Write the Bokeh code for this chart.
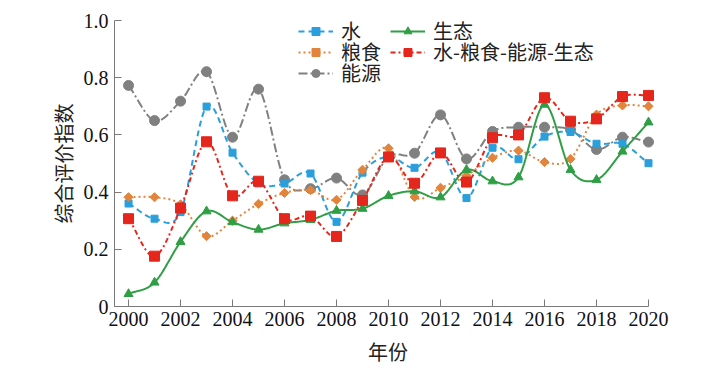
import numpy as np
from bokeh.plotting import figure
from bokeh.models import Range1d, Legend, LegendItem, FixedTicker, CustomJSTickFormatter
from bokeh.embed import file_html
from bokeh.resources import INLINE

years = list(range(2000, 2021))
water = [0.360, 0.307, 0.330, 0.699, 0.538, 0.430, 0.430, 0.465, 0.296, 0.468, 0.524,
         0.485, 0.540, 0.379, 0.555, 0.515, 0.594, 0.610, 0.569, 0.569, 0.501]
food = [0.382, 0.382, 0.357, 0.246, 0.300, 0.359, 0.397, 0.407, 0.373, 0.478, 0.553,
        0.383, 0.415, 0.458, 0.520, 0.545, 0.505, 0.516, 0.671, 0.703, 0.700]
energy = [0.773, 0.650, 0.718, 0.821, 0.592, 0.760, 0.443, 0.412, 0.449, 0.390, 0.524,
          0.536, 0.670, 0.516, 0.612, 0.627, 0.627, 0.618, 0.549, 0.592, 0.575]
eco = [0.044, 0.084, 0.226, 0.333, 0.295, 0.269, 0.291, 0.303, 0.335, 0.342, 0.387,
       0.403, 0.382, 0.478, 0.438, 0.452, 0.706, 0.478, 0.443, 0.542, 0.644]
wfee = [0.307, 0.176, 0.344, 0.576, 0.387, 0.438, 0.307, 0.316, 0.245, 0.371, 0.523,
        0.431, 0.537, 0.435, 0.590, 0.600, 0.730, 0.648, 0.656, 0.734, 0.738]

x_ticks = list(range(2000, 2021, 2))
y_ticks = [0, 0.2, 0.4, 0.6, 0.8, 1.0]
labels = ["水", "粮食", "能源", "生态", "水-粮食-能源-生态"]


def smooth(x, y, n=24):
    x = np.asarray(x, float)
    y = np.asarray(y, float)
    P = np.column_stack([x, y])
    P = np.vstack([2 * P[0] - P[1], P, 2 * P[-1] - P[-2]])
    out = []
    t = np.linspace(0, 1, n)[:, None]
    for i in range(1, len(P) - 2):
        p0, p1, p2, p3 = P[i - 1], P[i], P[i + 1], P[i + 2]
        c1 = p1 + (p2 - p0) / 6.0
        c2 = p2 - (p3 - p1) / 6.0
        seg = ((1 - t) ** 3) * p1 + 3 * ((1 - t) ** 2) * t * c1 + 3 * (1 - t) * t ** 2 * c2 + t ** 3 * p2
        out.append(seg if i == 1 else seg[1:])
    S = np.vstack(out)
    return S[:, 0], S[:, 1]


p = figure(frame_width=547, frame_height=286,
           x_range=Range1d(1999.46, 2020.5), y_range=Range1d(0, 1.0),
           output_backend="svg", toolbar_location=None,
           min_border_left=114, min_border_right=44, min_border_top=20, min_border_bottom=56)
p.grid.visible = False
p.outline_line_color = None
p.background_fill_color = "white"

BLUE = "#2a9fdb"
ORANGE = "#e3843c"
GRAY = "#808080"
GREEN = "#2f9e44"
RED = "#e4261c"

rend = {}
# energy
xs, ys = smooth(years, energy)
l = p.line(xs, ys, line_color=GRAY, line_width=2, line_dash="9 3 2 3")
s = p.scatter(years, energy, marker="circle", size=10, fill_color=GRAY, line_color=GRAY)
rend["能源"] = [l, s]
# water
xs, ys = smooth(years, water)
l = p.line(xs, ys, line_color=BLUE, line_width=2, line_dash="6 4")
s = p.scatter(years, water, marker="square", size=7, fill_color=BLUE, line_color=BLUE)
rend["水"] = [l, s]
# food
xs, ys = smooth(years, food)
l = p.line(xs, ys, line_color=ORANGE, line_width=2, line_dash="2 3")
s = p.scatter(years, food, marker="square", angle=np.pi / 4, size=6.5, fill_color=ORANGE, line_color=ORANGE)
rend["粮食"] = [l, s]
# eco
xs, ys = smooth(years, eco)
l = p.line(xs, ys, line_color=GREEN, line_width=2)
s = p.scatter(years, eco, marker="triangle", size=9, fill_color=GREEN, line_color=GREEN)
rend["生态"] = [l, s]
# wfee
xs, ys = smooth(years, wfee)
l = p.line(xs, ys, line_color=RED, line_width=2, line_dash="5 3 2 3")
s = p.scatter(years, wfee, marker="square", size=10, fill_color=RED, line_color=RED)
rend["水-粮食-能源-生态"] = [l, s]

AXC = "#7a7a7a"
for ax in (p.xaxis[0], p.yaxis[0]):
    ax.axis_line_color = AXC
    ax.major_tick_line_color = AXC
    ax.minor_tick_line_color = None
    ax.major_tick_in = 7
    ax.major_tick_out = 0
    ax.major_label_text_font = "Liberation Serif"
    ax.major_label_text_font_size = "20px"
    ax.major_label_text_color = "#111111"
    ax.axis_label_text_font = "Noto Sans CJK SC"
    ax.axis_label_text_font_size = "20px"
    ax.axis_label_text_font_style = "normal"
    ax.axis_label_text_color = "#222222"

p.xaxis[0].ticker = FixedTicker(ticks=x_ticks)
p.xaxis[0].bounds = (1999.46, 2020)
p.xaxis[0].major_label_standoff = 5
p.xaxis[0].axis_label = "年份"
p.xaxis[0].axis_label_standoff = 8

p.yaxis[0].ticker = FixedTicker(ticks=y_ticks)
p.yaxis[0].formatter = CustomJSTickFormatter(code="return tick == 0 ? '0' : tick.toFixed(1);")
p.yaxis[0].major_label_standoff = 6
p.yaxis[0].axis_label = "综合评价指数"
p.yaxis[0].axis_label_standoff = 3


def make_legend(name, loc):
    leg = Legend(items=[LegendItem(label=name, renderers=rend[name])], location=loc)
    leg.label_text_font = "Noto Sans CJK SC"
    leg.label_text_font_size = "20px"
    leg.label_text_line_height = 1.0
    leg.label_text_color = "#222222"
    leg.glyph_width = 35
    leg.glyph_height = 20
    leg.label_height = 20
    leg.spacing = 0
    leg.padding = 0
    leg.margin = 0
    leg.label_standoff = 8
    leg.border_line_color = None
    leg.background_fill_alpha = 0
    return leg


H = 12  # half-height estimate of a legend row box
row_centers = [273, 252, 231]
p.add_layout(make_legend(labels[0], (184, row_centers[0] - H)))
p.add_layout(make_legend(labels[1], (184, row_centers[1] - H)))
p.add_layout(make_legend(labels[2], (184, row_centers[2] - H)))
p.add_layout(make_legend(labels[3], (276, row_centers[0] - H)))
p.add_layout(make_legend(labels[4], (276, row_centers[1] - H)))

open("out.html", "w").write(file_html(p, INLINE))
